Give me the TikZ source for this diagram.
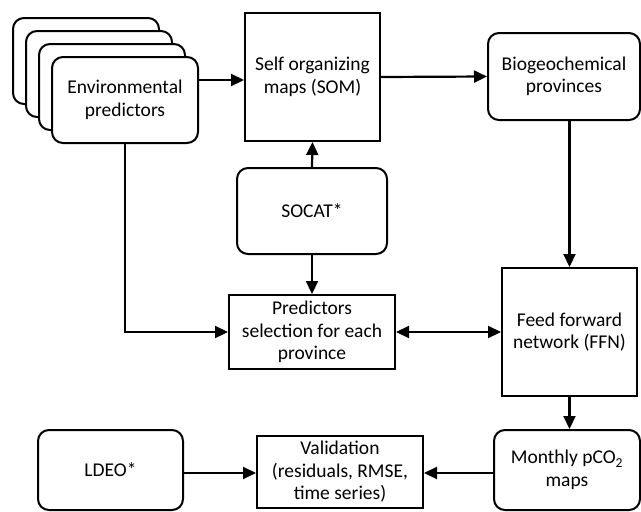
\documentclass[tikz,border=0pt]{standalone}
\usepackage{fontspec}
\setmainfont{Carlito}
\usetikzlibrary{arrows.meta}
\begin{document}
\begin{tikzpicture}[x=1pt,y=-1pt,
  base/.style={draw=black,line width=2pt,fill=white,align=center,inner sep=0pt,
    font=\fontsize{19.5}{22.5}\selectfont},
  rbox/.style={base,rounded corners=11pt},
  sbox/.style={base},
  arr/.style={line width=2.2pt,-{Triangle[length=13pt,width=12pt]}},
  darr/.style={line width=2.2pt,{Triangle[length=13pt,width=12pt]}-{Triangle[length=13pt,width=12pt]}}]
\useasboundingbox (0,0) rectangle (641,512);
% stacked environmental predictors
\node[rbox,minimum width=146pt,minimum height=86pt] (b1) at (86,61) {};
\node[rbox,minimum width=146pt,minimum height=86pt] (b2) at (99,74) {};
\node[rbox,minimum width=146pt,minimum height=86pt] (b3) at (112,87) {};
\node[rbox,minimum width=146pt,minimum height=86pt] (env) at (125,100) {Environmental\\predictors};
\node[sbox,minimum width=135pt,minimum height=128pt] (som) at (312.5,77) {Self organizing\\maps (SOM)};
\node[rbox,minimum width=152pt,minimum height=87pt] (bio) at (564,76.5) {Biogeochemical\\provinces};
\node[rbox,minimum width=150pt,minimum height=86pt] (socat) at (312,211) {SOCAT*};
\node[sbox,minimum width=166pt,minimum height=74pt] (pred) at (312,332) {Predictors\\selection for each\\province};
\node[sbox,minimum width=135pt,minimum height=128pt] (ffn) at (569.5,332) {Feed forward\\network (FFN)};
\node[rbox,minimum width=146pt,minimum height=80pt] (month) at (567,470) {Monthly pCO\textsubscript{2}\\maps};
\node[rbox,minimum width=145pt,minimum height=80pt] (ldeo) at (110.5,470) {LDEO*};
\node[sbox,minimum width=166pt,minimum height=72pt] (valid) at (340,472) {Validation\\(residuals, RMSE,\\time series)};
% connectors
\draw[arr] ([yshift=-3pt]som.west -| env.east) -- ([yshift=-3pt]som.west);
\draw[arr] (som.east) -- (bio.west);
\draw[arr] (socat.north) -- (som.south);
\draw[arr] (socat.south) -- (pred.north);
\draw[arr] (env.south) |- (pred.west);
\draw[arr] (ffn.north |- bio.south) -- (ffn.north);
\draw[darr] (pred.east) -- (ffn.west);
\draw[arr] (ffn.south) -- (ffn.south |- month.north);
\draw[arr] ([yshift=-3pt]ldeo.east) -- ([yshift=-3pt]ldeo.east -| valid.west);
\draw[arr] ([yshift=-3pt]month.west) -- ([yshift=-3pt]month.west -| valid.east);
\end{tikzpicture}
\end{document}
